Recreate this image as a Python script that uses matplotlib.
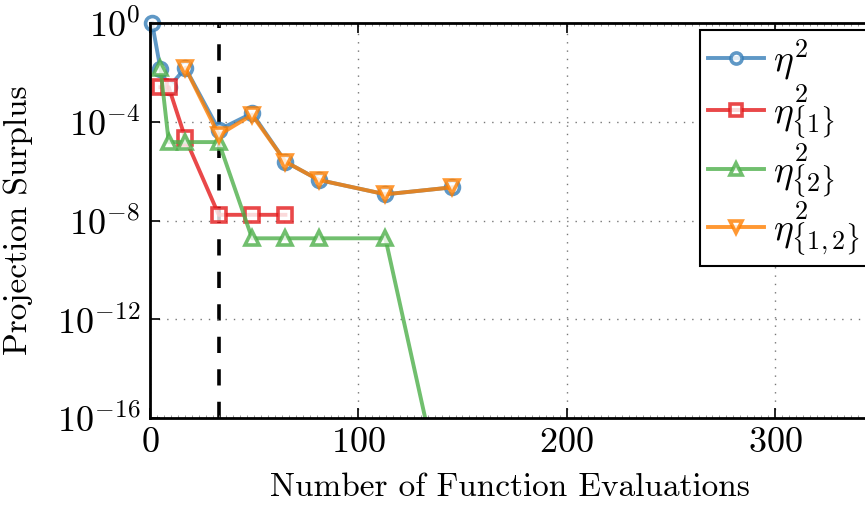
import matplotlib
matplotlib.use("Agg")
import matplotlib.pyplot as plt
from matplotlib.ticker import AutoMinorLocator, NullLocator

plt.rcParams["mathtext.fontset"] = "cm"
plt.rcParams["font.family"] = "cmr10"
plt.rcParams["axes.formatter.use_mathtext"] = True
plt.rcParams["axes.unicode_minus"] = False

# data
x_eta = [1, 5, 9, 17, 33, 49, 65, 81, 113, 145]
y_eta = [1.0, 1.4e-2, 2.5e-3, 1.5e-2, 4.7e-5, 2.2e-4, 2.4e-6, 4.4e-7, 1.15e-7, 2.2e-7]

x_eta1 = [5, 9, 17, 33, 49, 65]
y_eta1 = [2.5e-3, 2.5e-3, 2.1e-5, 1.7e-8, 1.7e-8, 1.7e-8]

x_eta2 = [5, 9, 17, 33, 49, 65, 81, 113, 145]
y_eta2 = [1.5e-2, 1.5e-5, 1.5e-5, 1.5e-5, 1.9e-9, 1.9e-9, 1.9e-9, 1.9e-9, 1.2e-21]

x_eta12 = [17, 33, 49, 65, 81, 113, 145]
y_eta12 = [1.5e-2, 2.9e-5, 1.9e-4, 2.4e-6, 4.4e-7, 1.15e-7, 2.2e-7]

x_cut = 33

colors = ["#377eb8", "#e41a1c", "#4daf4a", "#ff7f00"]

fig = plt.figure(figsize=(8.65, 5.08), dpi=100)
W, H = 865, 508
ax = fig.add_axes([150 / W, 1 - 418 / H, 720 / W, 395 / H])

ax.axvline(x_cut, color="black", ls=(0, (4.5, 4.5)), lw=2.6, zorder=1)

kw = dict(lw=2.8, ms=10, mew=2.6, mfc="white", alpha=0.8, clip_on=False)
ax.plot(x_eta, y_eta, marker="o", color=colors[0], label=r"$\eta^2$", **kw)
ax.plot(x_eta1, y_eta1, marker="s", color=colors[1], label=r"$\eta^2_{\{1\}}$", **kw)
kw["clip_on"] = True
ax.plot(x_eta2, y_eta2, marker="^", color=colors[2], label=r"$\eta^2_{\{2\}}$", **kw)
ax.plot(x_eta12, y_eta12, marker="v", color=colors[3], label=r"$\eta^2_{\{1,2\}}$", **kw)

ax.set_yscale("log")
ax.set_ylim(1e-16, 1e0)
ax.set_xlim(0, 345.6)
ax.set_xticks([0, 100, 200, 300])
ax.set_yticks([1e-16, 1e-12, 1e-8, 1e-4, 1e0])
ax.yaxis.set_minor_locator(NullLocator())
ax.xaxis.set_minor_locator(AutoMinorLocator(30))

ax.tick_params(which="major", direction="in", length=7, width=1.2, top=True, right=False,
               labelsize=26, pad=7)
ax.tick_params(which="minor", direction="in", length=2, width=0.6, color="#888888",
               top=True, bottom=True)
ax.grid(True, which="major", ls=(0, (1, 5)), color="#777777", lw=1)

for s in ax.spines.values():
    s.set_linewidth(2)
ax.spines["right"].set_visible(False)

ax.set_xlabel("Number of Function Evaluations", fontsize=24, labelpad=10)
ax.set_ylabel("Projection Surplus", fontsize=24)
ax.yaxis.set_label_coords(-0.1625, 0.5)

leg = fig.legend(loc="upper left", bbox_to_anchor=(700 / W, 1 - 30 / H), fontsize=27,
                 frameon=True, fancybox=False, edgecolor="black", framealpha=1,
                 handlelength=1.5, handletextpad=0.25, labelspacing=0.0, borderpad=0.2,
                 borderaxespad=0, numpoints=1, markerscale=0.8)
leg.get_frame().set_linewidth(1.5)

fig.savefig("out.png", dpi=100)
